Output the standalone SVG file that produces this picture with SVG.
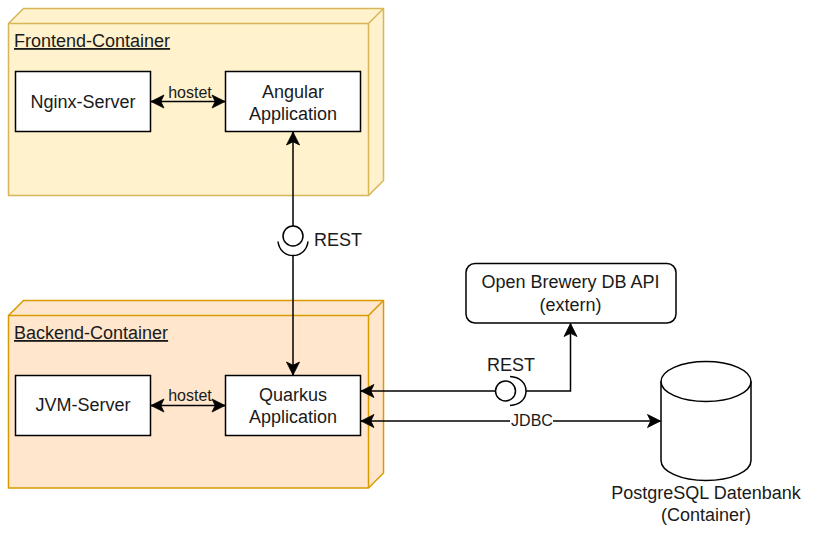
<svg xmlns="http://www.w3.org/2000/svg" width="827" height="542" viewBox="0 0 827 542">
<style>
text{font-family:"Liberation Sans",Arial,sans-serif;font-size:18px;fill:#1a1a1a;text-anchor:middle}
.t{text-anchor:start;text-decoration:underline}
.s{font-size:16px}
.box{fill:#fff;stroke:#000;stroke-width:1.5}
.fe{fill:#fff2cc;stroke:#d6b656;stroke-width:1.5;stroke-linejoin:miter}
.be{fill:#ffe6cc;stroke:#d79b00;stroke-width:1.5;stroke-linejoin:miter}
.c{fill:none;stroke:#000;stroke-width:1.5}
.a{marker-end:url(#arr)}
.b{marker-start:url(#arrs);marker-end:url(#arr)}
</style>
<defs>
<marker id="arr" markerUnits="userSpaceOnUse" markerWidth="16" markerHeight="16" refX="13" refY="8" orient="auto" overflow="visible"><path d="M0,1.5 L13,8 L0,14.5 L3.2,8 Z" fill="#000" stroke="#000" stroke-width="0.8"/></marker>
<marker id="arrs" markerUnits="userSpaceOnUse" markerWidth="16" markerHeight="16" refX="3" refY="8" orient="auto" overflow="visible"><path d="M16,1.5 L3,8 L16,14.5 L12.8,8 Z" fill="#000" stroke="#000" stroke-width="0.8"/></marker>
</defs>
<g id="frontend-container">
<path class="fe" d="M8.5,23.5 L23.5,8.5 H383.5 V180.5 L368.5,195.5 H8.5 Z"/>
<path class="fe" style="fill:none" d="M8.5,23.5 H368.5 V195.5 M368.5,23.5 L383.5,8.5"/>
<text class="t" x="14" y="47">Frontend-Container</text>
</g>
<g id="backend-container">
<path class="be" d="M8.5,315.5 L23.5,300.5 H383.5 V473 L368.5,488 H8.5 Z"/>
<path class="be" style="fill:none" d="M8.5,315.5 H368.5 V488 M368.5,315.5 L383.5,300.5"/>
<text class="t" x="14" y="339">Backend-Container</text>
</g>
<g id="nginx-server"><rect class="box" x="15.5" y="71.5" width="135" height="60"/><text x="83" y="108">Nginx-Server</text></g>
<g id="angular-application"><rect class="box" x="225.5" y="71.5" width="135" height="60"/><text x="293" y="98">Angular</text><text x="293" y="120">Application</text></g>
<g id="jvm-server"><rect class="box" x="15.5" y="375.5" width="135" height="60"/><text x="83" y="411">JVM-Server</text></g>
<g id="quarkus-application"><rect class="box" x="225.5" y="375.5" width="135" height="60"/><text x="293" y="401">Quarkus</text><text x="293" y="423">Application</text></g>
<g id="open-brewery-api"><rect class="box" x="466" y="263.5" width="210" height="59.5" rx="9" ry="9"/><text x="570.5" y="288">Open Brewery DB API</text><text x="570.5" y="311">(extern)</text></g>
<g id="postgresql-datenbank">
<path class="box" d="M661,381.5 C661,370.5 681,361.5 706,361.5 C731,361.5 751,370.5 751,381.5 V460.5 C751,471.5 731,480.5 706,480.5 C681,480.5 661,471.5 661,460.5 Z"/>
<path class="c" d="M661,381.5 C661,392.5 681,401.5 706,401.5 C731,401.5 751,392.5 751,381.5"/>
<text x="706" y="499">PostgreSQL Datenbank</text><text x="706" y="521">(Container)</text>
</g>
<g id="connectors">
<path class="c b" d="M151,101.5 H225"/>
<path class="c b" d="M151,405.5 H225"/>
<path class="c a" d="M293,226 V132"/>
<path class="c a" d="M293,255.5 V375"/>
<path class="c" d="M278,241.5 C279,250 285,255.5 293,255.5 C301,255.5 307,250 308,241.5"/>
<circle class="c" cx="293" cy="236" r="10"/>
<path class="c a" d="M495.5,391 H361"/>
<path class="c a" d="M526,391 H570.5 V323.5"/>
<circle class="c" cx="505.5" cy="391" r="10"/>
<path class="c" d="M510,376.5 C520,377 526,383 526,391 C526,399 520,405 510,405.5"/>
<path class="c b" d="M361,421 H660.5"/>
<rect x="510" y="413" width="43" height="17" fill="#fff"/>
<text class="s" x="190" y="98">hostet</text>
<text class="s" x="190" y="401">hostet</text>
<text x="338" y="246">REST</text>
<text x="511" y="371">REST</text>
<text class="s" x="532" y="426">JDBC</text>
</g>
</svg>
